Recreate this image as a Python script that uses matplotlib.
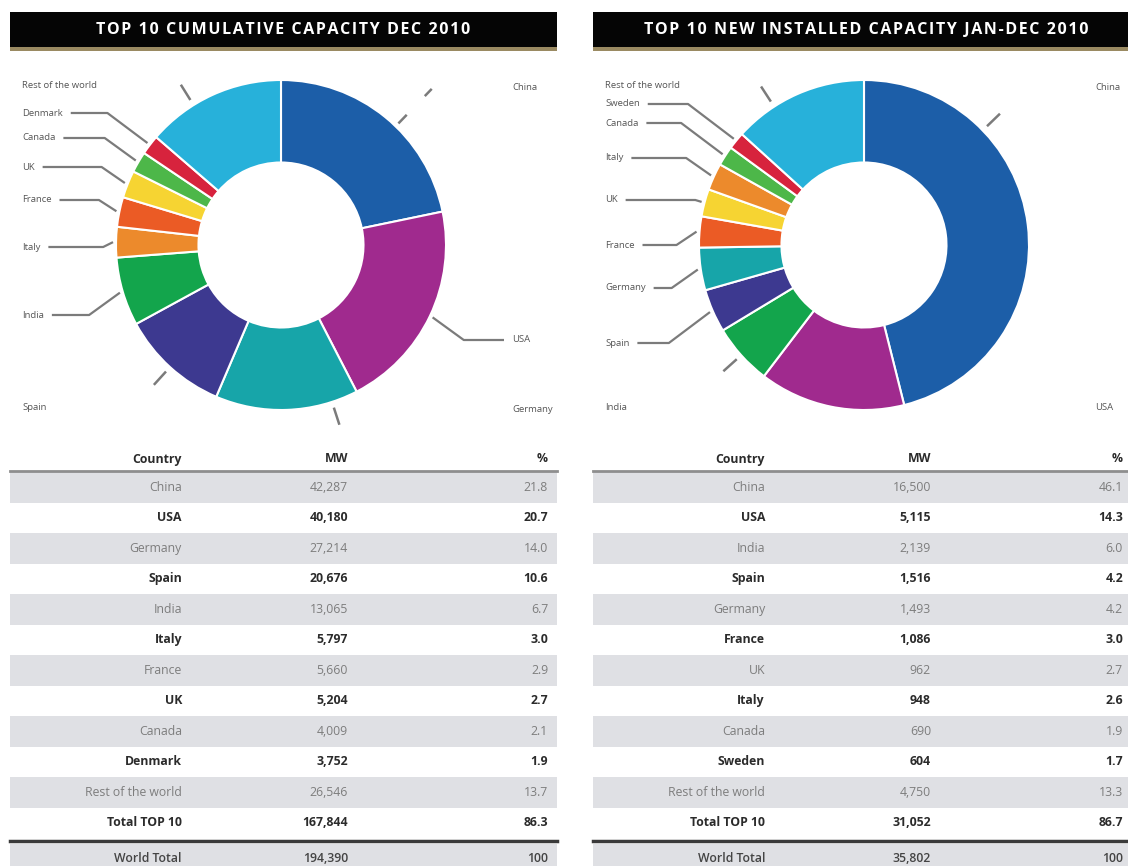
import matplotlib
matplotlib.use('Agg')
import numpy as np
import matplotlib.pyplot as plt
from matplotlib.patches import Rectangle

plt.rcParams['font.family'] = ['Open Sans', 'DejaVu Sans']

# ---- data ----
cum_countries = ['China', 'USA', 'Germany', 'Spain', 'India', 'Italy', 'France',
                 'UK', 'Canada', 'Denmark', 'Rest of the world']
cum_mw = [42287, 40180, 27214, 20676, 13065, 5797, 5660, 5204, 4009, 3752, 26546]
cum_pct = ['21.8', '20.7', '14.0', '10.6', '6.7', '3.0', '2.9', '2.7', '2.1', '1.9', '13.7']
cum_totals = [('Total TOP 10', '167,844', '86.3'), ('World Total', '194,390', '100')]

new_countries = ['China', 'USA', 'India', 'Spain', 'Germany', 'France', 'UK',
                 'Italy', 'Canada', 'Sweden', 'Rest of the world']
new_mw = [16500, 5115, 2139, 1516, 1493, 1086, 962, 948, 690, 604, 4750]
new_pct = ['46.1', '14.3', '6.0', '4.2', '4.2', '3.0', '2.7', '2.6', '1.9', '1.7', '13.3']
new_totals = [('Total TOP 10', '31,052', '86.7'), ('World Total', '35,802', '100')]

country_colors = {
    'China': '#1c5ea8', 'USA': '#a02a8e', 'Germany': '#17a5a9', 'Spain': '#3d3990',
    'India': '#13a54c', 'Italy': '#ec8a2c', 'France': '#eb5b25', 'UK': '#f6d432',
    'Canada': '#4db749', 'Denmark': '#d7233d', 'Sweden': '#d7233d',
    'Rest of the world': '#27b1da',
}

# label layout: y position (px), side, leader style, tick angle override (deg)
cum_label_y = [88, 340, 410, 408, 315, 247, 200, 167, 138, 113, 86]
cum_label_side = ['r', 'r', 'r', 'l', 'l', 'l', 'l', 'l', 'l', 'l', 'l']
cum_leader = ['dash', 'line', 'tick', 'tick', 'line', 'line', 'line', 'line', 'line', 'line', 'tick']
cum_tick_ang = [46, None, -72, None, None, None, None, None, None, None, 122]
new_label_y = [88, 408, 408, 343, 288, 245, 200, 158, 123, 104, 85]
new_label_side = ['r', 'r', 'l', 'l', 'l', 'l', 'l', 'l', 'l', 'l', 'l']
new_leader = ['tick', 'none', 'tick', 'line', 'line', 'line', 'line', 'line', 'line', 'line', 'tick']
new_tick_ang = [44, None, None, None, None, None, None, None, None, None, 123]

W, H = 1128, 866
fig = plt.figure(figsize=(W / 100, H / 100), dpi=100)
bg = fig.add_axes([0, 0, 1, 1])
bg.set_xlim(0, W)
bg.set_ylim(H, 0)
bg.axis('off')
renderer = fig.canvas.get_renderer()

GRAY_TXT = '#7d7d7d'
DARK_TXT = '#2b2b2b'
LEAD = '#7b7b7b'
FS = 8.8


def spaced(s):
    return '\u200a'.join(s)


def panel(x0, width, title, countries, mw, pct, totals, label_y, label_side, leader,
          tick_ang, pct_x):
    # title bar
    bg.add_patch(Rectangle((x0, 12), width, 36, color='#050505', lw=0))
    bg.add_patch(Rectangle((x0, 47), width, 4, color='#9a8a62', lw=0))
    bg.text(x0 + 273, 30, spaced(title), color='white', fontsize=11.5, fontweight='bold',
            ha='center', va='center')

    # donut
    cx, cy, R = x0 + 271, 245, 165
    ax = fig.add_axes([(cx - R) / W, (H - cy - R) / H, 2 * R / W, 2 * R / H])
    wedges, _ = ax.pie(mw, colors=[country_colors[c] for c in countries],
                       startangle=90, counterclock=False, radius=1,
                       wedgeprops=dict(width=0.5, edgecolor='white', linewidth=1.5))
    ax.set_xlim(-1, 1)
    ax.set_ylim(-1, 1)
    ax.axis('off')

    # leader lines + labels
    for w, name, ly, side, style, ta in zip(wedges, countries, label_y, label_side,
                                            leader, tick_ang):
        mid = (w.theta1 + w.theta2) / 2 if ta is None else ta
        ang = np.deg2rad(mid)
        ca, sa = np.cos(ang), -np.sin(ang)
        px, py = cx + (R + 3) * ca, cy + (R + 3) * sa
        if side == 'l':
            t = bg.text(x0 + 12, ly, name, color='#555555', fontsize=6.8,
                        ha='left', va='center')
            xend = t.get_window_extent(renderer).x1 + 8
            if style == 'line':
                ex = max(px - 1.2 * abs(py - ly) - 4, xend + 10)
                bg.plot([xend, ex, px], [ly, ly, py], color=LEAD, lw=1.6,
                        solid_capstyle='butt')
        else:
            bg.text(x0 + 502, ly, name, color='#555555', fontsize=6.8,
                    ha='left', va='center')
            if style == 'line':
                ex = px + 1.2 * abs(py - ly) + 4
                bg.plot([px, ex, x0 + 494], [py, ly, ly], color=LEAD, lw=1.6,
                        solid_capstyle='butt')
        if style == 'tick':
            bg.plot([cx + (R + 6) * ca, cx + (R + 24) * ca],
                    [cy + (R + 6) * sa, cy + (R + 24) * sa],
                    color=LEAD, lw=1.8, solid_capstyle='butt')
        elif style == 'dash':
            for r0, r1 in [(R + 4, R + 16), (R + 42, R + 52)]:
                bg.plot([cx + r0 * ca, cx + r1 * ca], [cy + r0 * sa, cy + r1 * sa],
                        color=LEAD, lw=1.8, solid_capstyle='butt')

    # table
    col_c, col_mw, col_p = x0 + 172, x0 + 338, x0 + pct_x
    for x, t in [(col_c, 'Country'), (col_mw, 'MW'), (col_p, '%')]:
        bg.text(x, 459, t, color=DARK_TXT, fontsize=FS, fontweight='bold',
                ha='right', va='center')
    bg.plot([x0, x0 + width], [471, 471], color='#8e8e8e', lw=2)

    rows = [(c, f'{v:,}', p) for c, v, p in zip(countries, mw, pct)] + [totals[0]]
    pitch = 30.5
    for i, (c, v, p) in enumerate(rows):
        top = 472 + pitch * i
        if i % 2 == 0:
            bg.add_patch(Rectangle((x0, top), width, pitch, color='#dfe0e4', lw=0))
            color, weight = GRAY_TXT, 'normal'
        else:
            color, weight = DARK_TXT, 'bold'
        yc = top + pitch / 2
        for x, t in [(col_c, c), (col_mw, v), (col_p, p)]:
            bg.text(x, yc, t, color=color, fontsize=FS, fontweight=weight,
                    ha='right', va='center')

    # world total row
    bg.plot([x0, x0 + width], [840.5, 840.5], color='#3a3a3a', lw=2.5)
    bg.add_patch(Rectangle((x0, 844), width, 31, color='#dfe0e4', lw=0))
    c, v, p = totals[1]
    for x, t in [(col_c, c), (col_mw, v), (col_p, p)]:
        bg.text(x, 859, t, color='#444444', fontsize=FS, fontweight='semibold',
                ha='right', va='center')


panel(10, 547, 'TOP 10 CUMULATIVE CAPACITY DEC 2010', cum_countries, cum_mw,
      cum_pct, cum_totals, cum_label_y, cum_label_side, cum_leader, cum_tick_ang, 538)
panel(593, 547, 'TOP 10 NEW INSTALLED CAPACITY JAN-DEC 2010', new_countries, new_mw,
      new_pct, new_totals, new_label_y, new_label_side, new_leader, new_tick_ang, 530)

fig.savefig('out.png', dpi=100)
